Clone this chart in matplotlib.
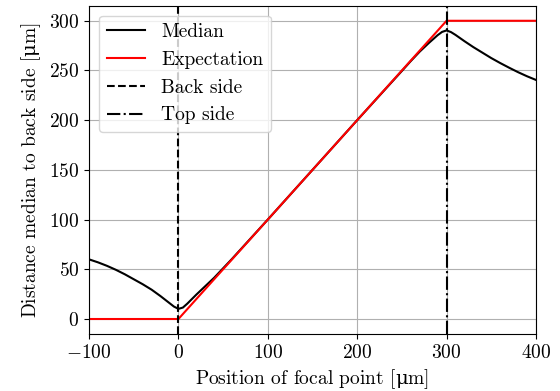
import matplotlib
matplotlib.use("Agg")
import matplotlib.pyplot as plt

plt.rcParams['font.family'] = ['cmr10', 'DejaVu Serif']
plt.rcParams['mathtext.fontset'] = 'cm'
plt.rcParams['axes.formatter.use_mathtext'] = True
plt.rcParams['font.size'] = 14

# focal point position [um] and median distance to back side [um]
focus = [-100, -90, -80, -70, -60, -50, -40, -30, -20, -10, -5, 0, 5, 10, 15, 20, 30,
         40, 50, 60, 100, 150, 200, 250, 260, 270, 280, 285, 290, 295, 300, 305, 310,
         320, 330, 340, 350, 360, 370, 380, 390, 400]
median = [60, 57, 53.5, 49.5, 45, 40, 35, 29.5, 23, 16, 12.5, 10.2, 11.5, 15.5, 20, 24.5, 33,
          41.5, 51, 60.5, 100, 150, 200, 249.5, 259.5, 269, 277.5, 281.5, 285.5, 288.8, 290.3, 288.6, 285.8,
          279.5, 273.5, 268, 262.5, 257.5, 252.8, 248.3, 244.2, 240.5]

# ideal distance: clipped at back side (0) and top side (300)
exp_focus = [-100, 0, 300, 400]
expectation = [0, 0, 300, 300]

back_side = 0
top_side = 300

fig = plt.figure(figsize=(5.6, 3.91), dpi=100)
ax = fig.add_axes([0.159, 0.146, 0.798, 0.839])

ax.plot(focus, median, color='black', lw=1.5, label='Median')
ax.plot(exp_focus, expectation, color='red', lw=1.5, label='Expectation')
ax.axvline(back_side, color='black', ls='--', lw=1.5, label='Back side')
ax.axvline(top_side, color='black', ls='-.', lw=1.5, label='Top side')

ax.set_xlim(-100, 400)
ax.set_ylim(-15, 315)
ax.set_xticks([-100, 0, 100, 200, 300, 400])
ax.set_yticks([0, 50, 100, 150, 200, 250, 300])
ax.grid(True, color='#b0b0b0', lw=0.8)
ax.set_axisbelow(True)

# upright mu from the DejaVu math set, rest stays in cmr10
ax.set_xlabel(r'Position of focal point [$\mathrm{\mu}$m]', math_fontfamily='dejavuserif')
ax.set_ylabel(r'Distance median to back side [$\mathrm{\mu}$m]', math_fontfamily='dejavuserif')
ax.legend(loc='upper left', fontsize=14)

fig.savefig('out.png', dpi=100)
